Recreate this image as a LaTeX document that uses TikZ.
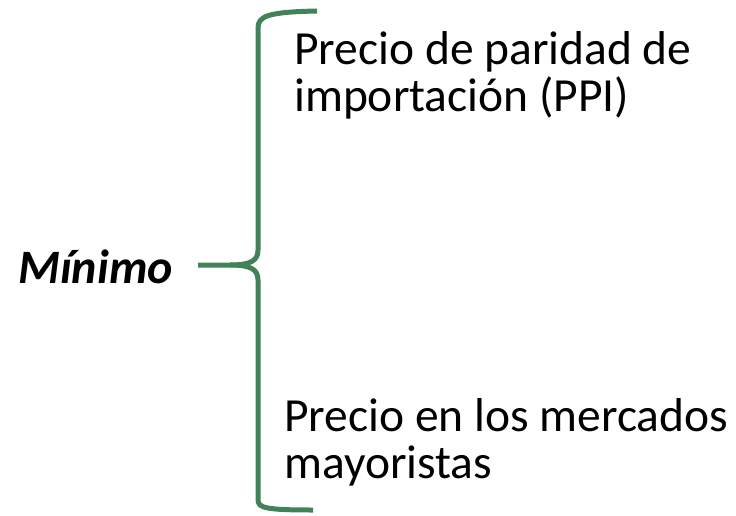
\documentclass[tikz,border=0pt]{standalone}
\usepackage{fontspec}
\setmainfont{Carlito}
\usetikzlibrary{shapes,arrows}
\definecolor{bracegreen}{RGB}{65,130,90}

\begin{document}
\begin{tikzpicture}[x=1pt,y=-1pt,
		txt/.style={inner sep=0pt, anchor=base west, align=left, font=\fontsize{47.5}{47}\selectfont}]
			\useasboundingbox (0,0) rectangle (736,516);
			\node[txt, font=\fontsize{48}{47}\selectfont\bfseries\itshape] (minimo) at (18,283) {Mínimo};
			\node[txt] (ppi) at (294,112) {Precio de paridad de\\importación (PPI)};
			\node[txt] (mayor) at (284,478) {Precio en los mercados\\mayoristas};
			\coordinate (tip) at (198,265);
			\draw[bracegreen, line width=5pt] (tip) -- (230,265) .. controls (250,265) and (258,261) .. (258,250) -- (258,28) .. controls (258,16) and (268,12) .. (317,11);
			\draw[bracegreen, line width=5pt] (230,265) .. controls (250,265) and (258,269) .. (258,280) -- (258,500) .. controls (258,508) and (266,510) .. (313,510);
		\end{tikzpicture}
\end{document}
